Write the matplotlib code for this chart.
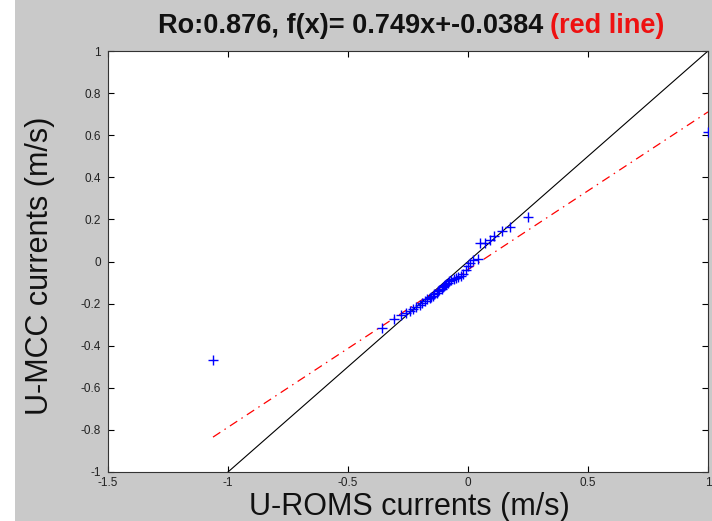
import matplotlib
matplotlib.use("Agg")
import matplotlib.pyplot as plt
from matplotlib.patches import Rectangle
import numpy as np

plt.rcParams['font.family'] = ['Liberation Sans', 'DejaVu Sans']
plt.rcParams['axes.unicode_minus'] = False

# ---- data ----
x_roms = [-1.0625, -0.36, -0.31, -0.28, -0.26, -0.24, -0.23, -0.215, -0.20, -0.19,
          -0.18, -0.17, -0.16, -0.155, -0.145, -0.14, -0.13, -0.125, -0.12, -0.11,
          -0.105, -0.10, -0.095, -0.09, -0.085, -0.08, -0.07, -0.06, -0.05, -0.04,
          -0.03, -0.02, -0.01, 0.0, 0.01, 0.02, 0.04, 0.05, 0.07, 0.09,
          0.11, 0.14, 0.175, 0.25, 1.0]
y_mcc = [-0.468, -0.315, -0.275, -0.255, -0.245, -0.235, -0.225, -0.215, -0.205, -0.195,
         -0.19, -0.18, -0.175, -0.17, -0.165, -0.155, -0.15, -0.14, -0.135, -0.13,
         -0.12, -0.115, -0.11, -0.105, -0.10, -0.095, -0.09, -0.085, -0.08, -0.075,
         -0.07, -0.06, -0.04, -0.02, -0.005, 0.005, 0.01, 0.09, 0.09, 0.10,
         0.12, 0.145, 0.165, 0.21, 0.615]
fit_slope = 0.749
fit_intercept = -0.0384
ro = 0.876

x_ticks = [-1.5, -1, -0.5, 0, 0.5, 1]
x_tick_labels = ['-1.5', '-1', '-0.5', '0', '0.5', '1']
y_ticks = [-1, -0.8, -0.6, -0.4, -0.2, 0, 0.2, 0.4, 0.6, 0.8, 1]
y_tick_labels = ['-1', '-0.8', '-0.6', '-0.4', '-0.2', '0', '0.2', '0.4', '0.6', '0.8', '1']

title_main = "Ro:%.3f, f(x)= %.3fx+%.4f" % (ro, fit_slope, fit_intercept)
title_red = "(red line)"
xlabel = "U-ROMS currents (m/s)"
ylabel = "U-MCC currents (m/s)"

# ---- figure ----
W, H = 712, 521
fig = plt.figure(figsize=(W / 100, H / 100), dpi=100, facecolor='#c9c9c9')
fig.patches.append(Rectangle((0, 0), 15 / W, 1, transform=fig.transFigure,
                             facecolor='white', edgecolor='none', zorder=-1))

L, R, T, B = 108, 708, 51, 472
ax = fig.add_axes([L / W, (H - B) / H, (R - L) / W, (B - T) / H])
ax.set_facecolor('white')

xs = np.array(x_roms)
ys = np.array(y_mcc)
ax.plot(xs, ys, linestyle='none', marker='+', color='#0000ff', markersize=7, mew=1.0, zorder=3)
ax.plot([-1, 1], [-1, 1], color='black', lw=0.8, zorder=2)
xf = np.array([xs.min(), xs.max()])
ax.plot(xf, fit_slope * xf + fit_intercept, color='red', lw=0.9,
        dashes=(7, 4, 1.2, 4), zorder=2)

ax.set_xlim(-1.5, 1)
ax.set_ylim(-1, 1)
ax.set_xticks(x_ticks)
ax.set_xticklabels(x_tick_labels)
ax.set_yticks(y_ticks)
ax.set_yticklabels(y_tick_labels)
ax.tick_params(direction='in', length=4, width=0.8, top=True, right=True,
               labelsize=8.5, labelcolor='#222222', color='black', pad=5)
ax.tick_params(axis='x', pad=3.5)
for s in ax.spines.values():
    s.set_linewidth(0.8)
    s.set_color('#333333')

fig.text(543 / W, (H - 33) / H, title_main, ha='right', va='baseline',
         fontsize=19.5, fontweight='bold', color='#111111')
fig.text(550 / W, (H - 33) / H, title_red, ha='left', va='baseline',
         fontsize=19.5, fontweight='bold', color='#ee1111')
fig.text(409 / W, (H - 515) / H, xlabel, ha='center', va='baseline',
         fontsize=22, color='#111111')
fig.text(40 / W, (H - 266) / H, ylabel, ha='center', va='center', rotation=90,
         fontsize=22, color='#111111')

fig.savefig('out.png', dpi=100, facecolor=fig.get_facecolor())
